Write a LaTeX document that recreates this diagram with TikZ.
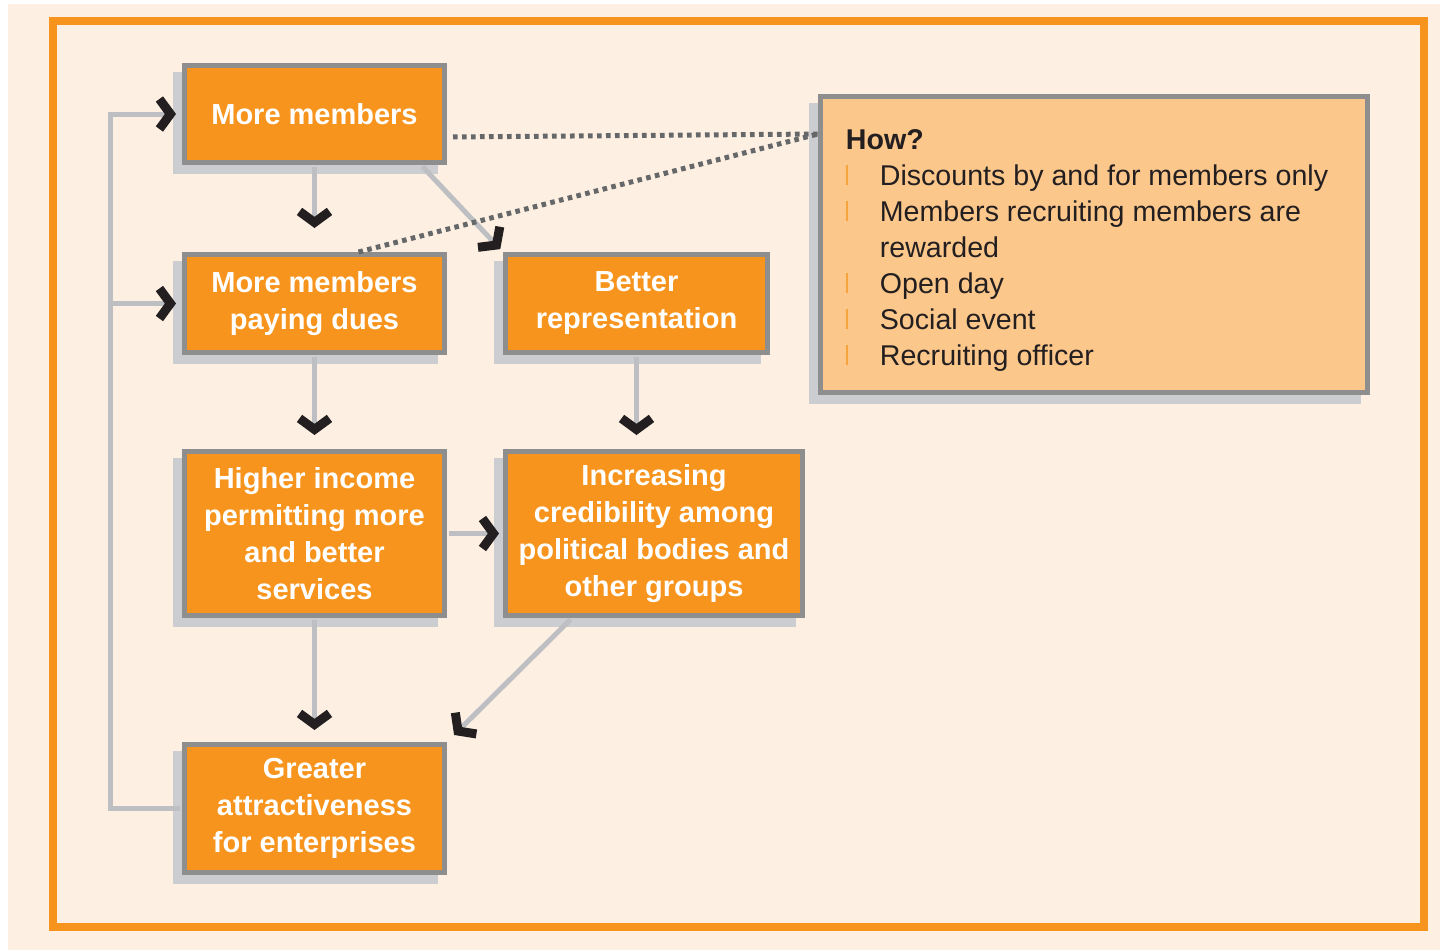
\documentclass[tikz,border=0pt]{standalone}
\usepackage{fontspec}
\setmainfont{Liberation Sans}
\usetikzlibrary{arrows.meta,shadows}

\definecolor{cream}{HTML}{FDF0E2}
\definecolor{boxorange}{HTML}{F7941D}
\definecolor{howorange}{HTML}{FCC78B}
\definecolor{bordergray}{HTML}{8E8E8E}
\definecolor{shadowgray}{HTML}{CBCDD1}
\definecolor{linkgray}{HTML}{BDBFC2}
\definecolor{dotgray}{HTML}{666769}
\definecolor{chevcol}{HTML}{231F20}
\definecolor{textdark}{HTML}{231F20}
\definecolor{barorange}{HTML}{F6A43C}

% orange bar in front of each item of the list
\newcommand{\howbar}{\makebox[17pt][l]{\textcolor{barorange}{\rule{1.2pt}{10pt}}}}

\tikzset{
  boxshadow/.style={drop shadow={shadow xshift=-4.5pt, shadow yshift=-4.5pt,
    fill=shadowgray, draw=shadowgray, opacity=1}},
  cause/.style={draw=bordergray, line width=2.5pt, fill=boxorange, text=white,
    font=\fontsize{14.5}{18.5}\selectfont\bfseries, align=center, inner sep=0pt, boxshadow},
  howbox/.style={draw=bordergray, line width=2.5pt, fill=howorange, text=textdark,
    font=\fontsize{14.3}{18}\selectfont, align=left, inner sep=0pt, boxshadow},
  link/.style={draw=linkgray, line width=2.5pt, shorten <=1pt,
    -{Straight Barb[sharp, color=chevcol, length=5.5pt, width=15pt, line width=4.5pt]}},
  dots/.style={draw=dotgray, line width=2.5pt, dash pattern=on 2.3pt off 2.2pt}
}

\begin{document}
\begin{tikzpicture}[x=0.5pt, y=-0.5pt]
  \useasboundingbox (0,0) rectangle (1440,950);
  % page and frame
  \fill[white] (0,0) rectangle (1440,950);
  \fill[cream] (8,4) rectangle (1440,950);
  \draw[boxorange, line width=4pt] (52.5,21) rectangle (1423.5,926.5);

  % left column
  \node[cause, minimum width=130pt, minimum height=48.5pt] (mm) at (314.5,114) {More members};
  \node[cause, minimum width=130pt, minimum height=49pt] (dues) at (314.5,303.5) {More members\\paying dues};
  \node[cause, minimum width=130pt, minimum height=82pt] (hi) at (314.5,533.5)
    {Higher income\\permitting more\\and better\\services};
  \node[cause, minimum width=130pt, minimum height=64pt] (ga) at (314.5,808.5)
    {Greater\\attractiveness\\for enterprises};
  % right column
  \node[cause, minimum width=131pt, minimum height=49pt] (br) at (636.5,303.5) {Better\\representation};
  \node[cause, minimum width=148.5pt, minimum height=82pt] (ic) at (654,533.5)
    {Increasing\\credibility among\\political bodies and\\other groups};

  % list of measures
  \node[howbox, minimum width=273.5pt, minimum height=148pt] (how) at (1094,244.5) {%
    \rule{0pt}{15.5pt}\textbf{How?}\\
    \howbar Discounts by and for members only\rule{7pt}{0pt}\\
    \howbar Members recruiting members are\\
    \hspace*{17pt}rewarded\\
    \howbar Open day\\
    \howbar Social event\\
    \howbar Recruiting officer};

  % arrows
  \draw[link, shorten >=12pt] (mm) -- (dues);
  \draw[link, shorten >=2pt] ([xshift=-13pt]mm.south east) -- (br.north west);
  \draw[link, shorten >=7pt] (dues) -- (hi);
  \draw[link, shorten >=7pt] (br) -- (br |- ic.north);
  \draw[link, shorten >=2pt] (hi) -- (ic);
  \draw[link, shorten >=6pt] (hi) -- (ga);
  \draw[link, shorten >=5pt] ([xshift=34.5pt]ic.south west) -- (ga.north east);

  % feedback loop
  \coordinate (back) at (110,808.5);
  \draw[link, shorten >=3pt] (ga.west) -- (back) |- (mm.west);
  \draw[link, shorten >=3pt] (back |- dues.west) -- (dues.west);

  % dotted hints to the list
  \coordinate (hook) at ([yshift=-20pt]how.north west);
  \draw[dots, shorten <=3pt] ([yshift=-11.5pt]mm.east) -- (hook);
  \draw[dots] ([xshift=22pt]dues.north) -- (hook);
\end{tikzpicture}
\end{document}
